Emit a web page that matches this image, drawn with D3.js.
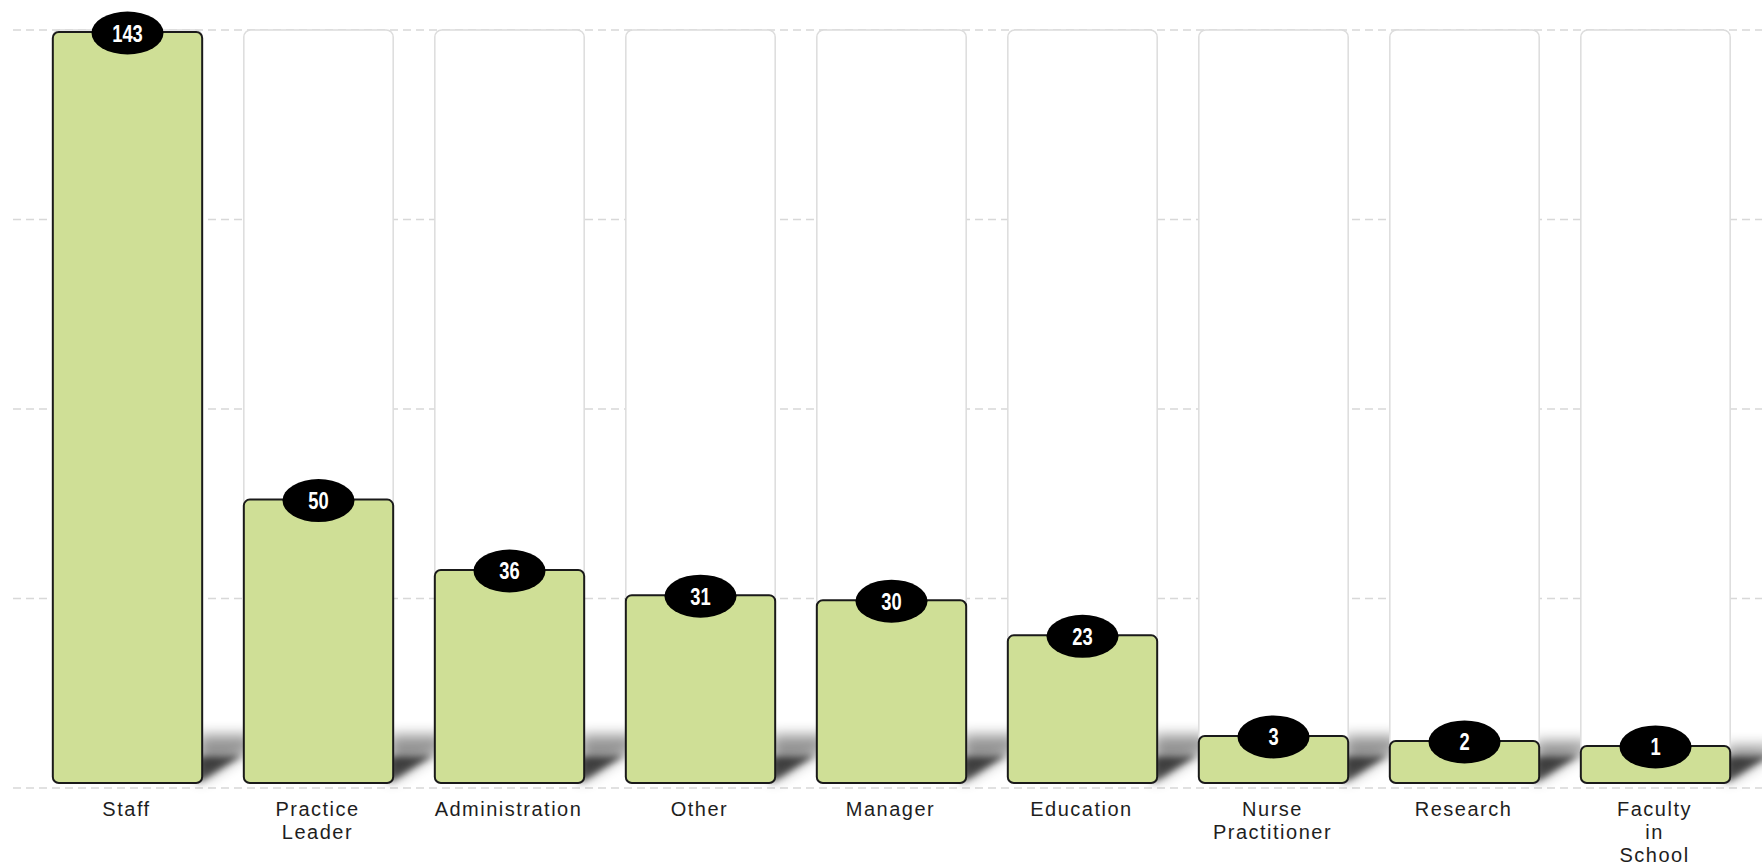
<!DOCTYPE html>
<html>
<head>
<meta charset="utf-8">
<script src="https://cdn.jsdelivr.net/npm/d3@7"></script>
<style>
  html, body { margin: 0; padding: 0; background: #fff; }
  svg { display: block; }
</style>
</head>
<body>
<svg id="chart" width="1762" height="865"></svg>
<script>
const categories = ["Staff", "Practice Leader", "Administration", "Other", "Manager", "Education", "Nurse Practitioner", "Research", "Faculty in School"];
const labelLines = [["Staff"], ["Practice", "Leader"], ["Administration"], ["Other"], ["Manager"], ["Education"], ["Nurse", "Practitioner"], ["Research"], ["Faculty", "in", "School"]];
const values = [143, 50, 36, 31, 30, 23, 3, 2, 1];
const gridSteps = [0, 1, 2, 3, 4];

const W = 1762, H = 865;
const plotTop = 32, barBase = 783, minH = 32;
const gridTop = 30, gridBottom = 788;

const svg = d3.select("#chart");
const defs = svg.append("defs");
defs.append("filter").attr("id", "blurSoft").attr("x", "-50%").attr("y", "-50%").attr("width", "200%").attr("height", "200%")
  .append("feGaussianBlur").attr("stdDeviation", 7);
defs.append("filter").attr("id", "blurHard").attr("x", "-50%").attr("y", "-50%").attr("width", "200%").attr("height", "200%")
  .append("feGaussianBlur").attr("stdDeviation", 3);

const x = d3.scaleBand().domain(categories).range([32, 1751]).paddingInner(0.218).paddingOuter(0.109);
const y = d3.scaleLinear().domain([0, d3.max(values)]).range([barBase - minH, plotTop]);
const g = d3.scaleLinear().domain([0, 4]).range([gridBottom, gridTop]);

// grid
svg.append("g").selectAll("line").data(gridSteps).join("line")
  .attr("x1", 13).attr("x2", W)
  .attr("y1", d => g(d)).attr("y2", d => g(d))
  .attr("stroke", "#d8d8d8").attr("stroke-width", 1.5).attr("stroke-dasharray", "8,5");

const data = categories.map((c, i) => ({ c, v: values[i], lines: labelLines[i] }));

// shadows: soft wide layer + darker core
const sh = svg.append("g").selectAll("g").data(data).join("g");
sh.append("path")
  .attr("d", d => {
    const r = x(d.c) + x.bandwidth();
    const ht = Math.min(48, barBase - y(d.v));
    return `M${r - 4},${barBase} L${r + 50},${barBase - 34} L${r + 50},${barBase - ht} L${r - 4},${barBase - ht}Z`;
  })
  .attr("fill", "#000").attr("opacity", 0.42).attr("filter", "url(#blurSoft)");
sh.append("path")
  .attr("d", d => {
    const r = x(d.c) + x.bandwidth();
    const ht = Math.min(26, barBase - y(d.v));
    return `M${r - 4},${barBase} L${r + 40},${barBase - 28} L${r + 20},${barBase - ht} L${r - 4},${barBase - ht}Z`;
  })
  .attr("fill", "#000").attr("opacity", 0.6).attr("filter", "url(#blurHard)");

// background columns
svg.append("g").selectAll("rect").data(data).join("rect")
  .attr("x", d => x(d.c)).attr("width", x.bandwidth())
  .attr("y", gridTop).attr("height", barBase - gridTop)
  .attr("rx", 7).attr("fill", "#fff").attr("stroke", "#dcdcdc").attr("stroke-width", 1.5);

// bars
svg.append("g").selectAll("rect").data(data).join("rect")
  .attr("x", d => x(d.c)).attr("width", x.bandwidth())
  .attr("y", d => y(d.v)).attr("height", d => barBase - y(d.v))
  .attr("rx", 6).attr("fill", "#cfdf96").attr("stroke", "#1a1a1a").attr("stroke-width", 2);

// value bubbles
const vb = svg.append("g").selectAll("g").data(data).join("g")
  .attr("transform", d => `translate(${x(d.c) + x.bandwidth() / 2},${y(d.v) + 1})`);
vb.append("ellipse").attr("rx", 36).attr("ry", 21.5).attr("fill", "#000");
vb.append("text").text(d => d.v)
  .attr("text-anchor", "middle").attr("y", 8.5)
  .attr("transform", "scale(0.78,1)")
  .attr("fill", "#fff").attr("font-weight", "bold")
  .attr("font-family", "'Liberation Sans', Arial, sans-serif")
  .attr("font-size", 23.5);

// category labels
const lab = svg.append("g").selectAll("text").data(data).join("text")
  .attr("text-anchor", "middle")
  .attr("font-family", "'Liberation Sans', Arial, sans-serif")
  .attr("font-size", 20).attr("letter-spacing", "1.5px").attr("fill", "#1e1e1e");
lab.selectAll("tspan").data(d => d.lines.map(l => ({ l, cx: x(d.c) + x.bandwidth() / 2 }))).join("tspan")
  .attr("x", t => t.cx - 1).attr("y", (t, i) => 816 + i * 23).text(t => t.l);
</script>
</body>
</html>
